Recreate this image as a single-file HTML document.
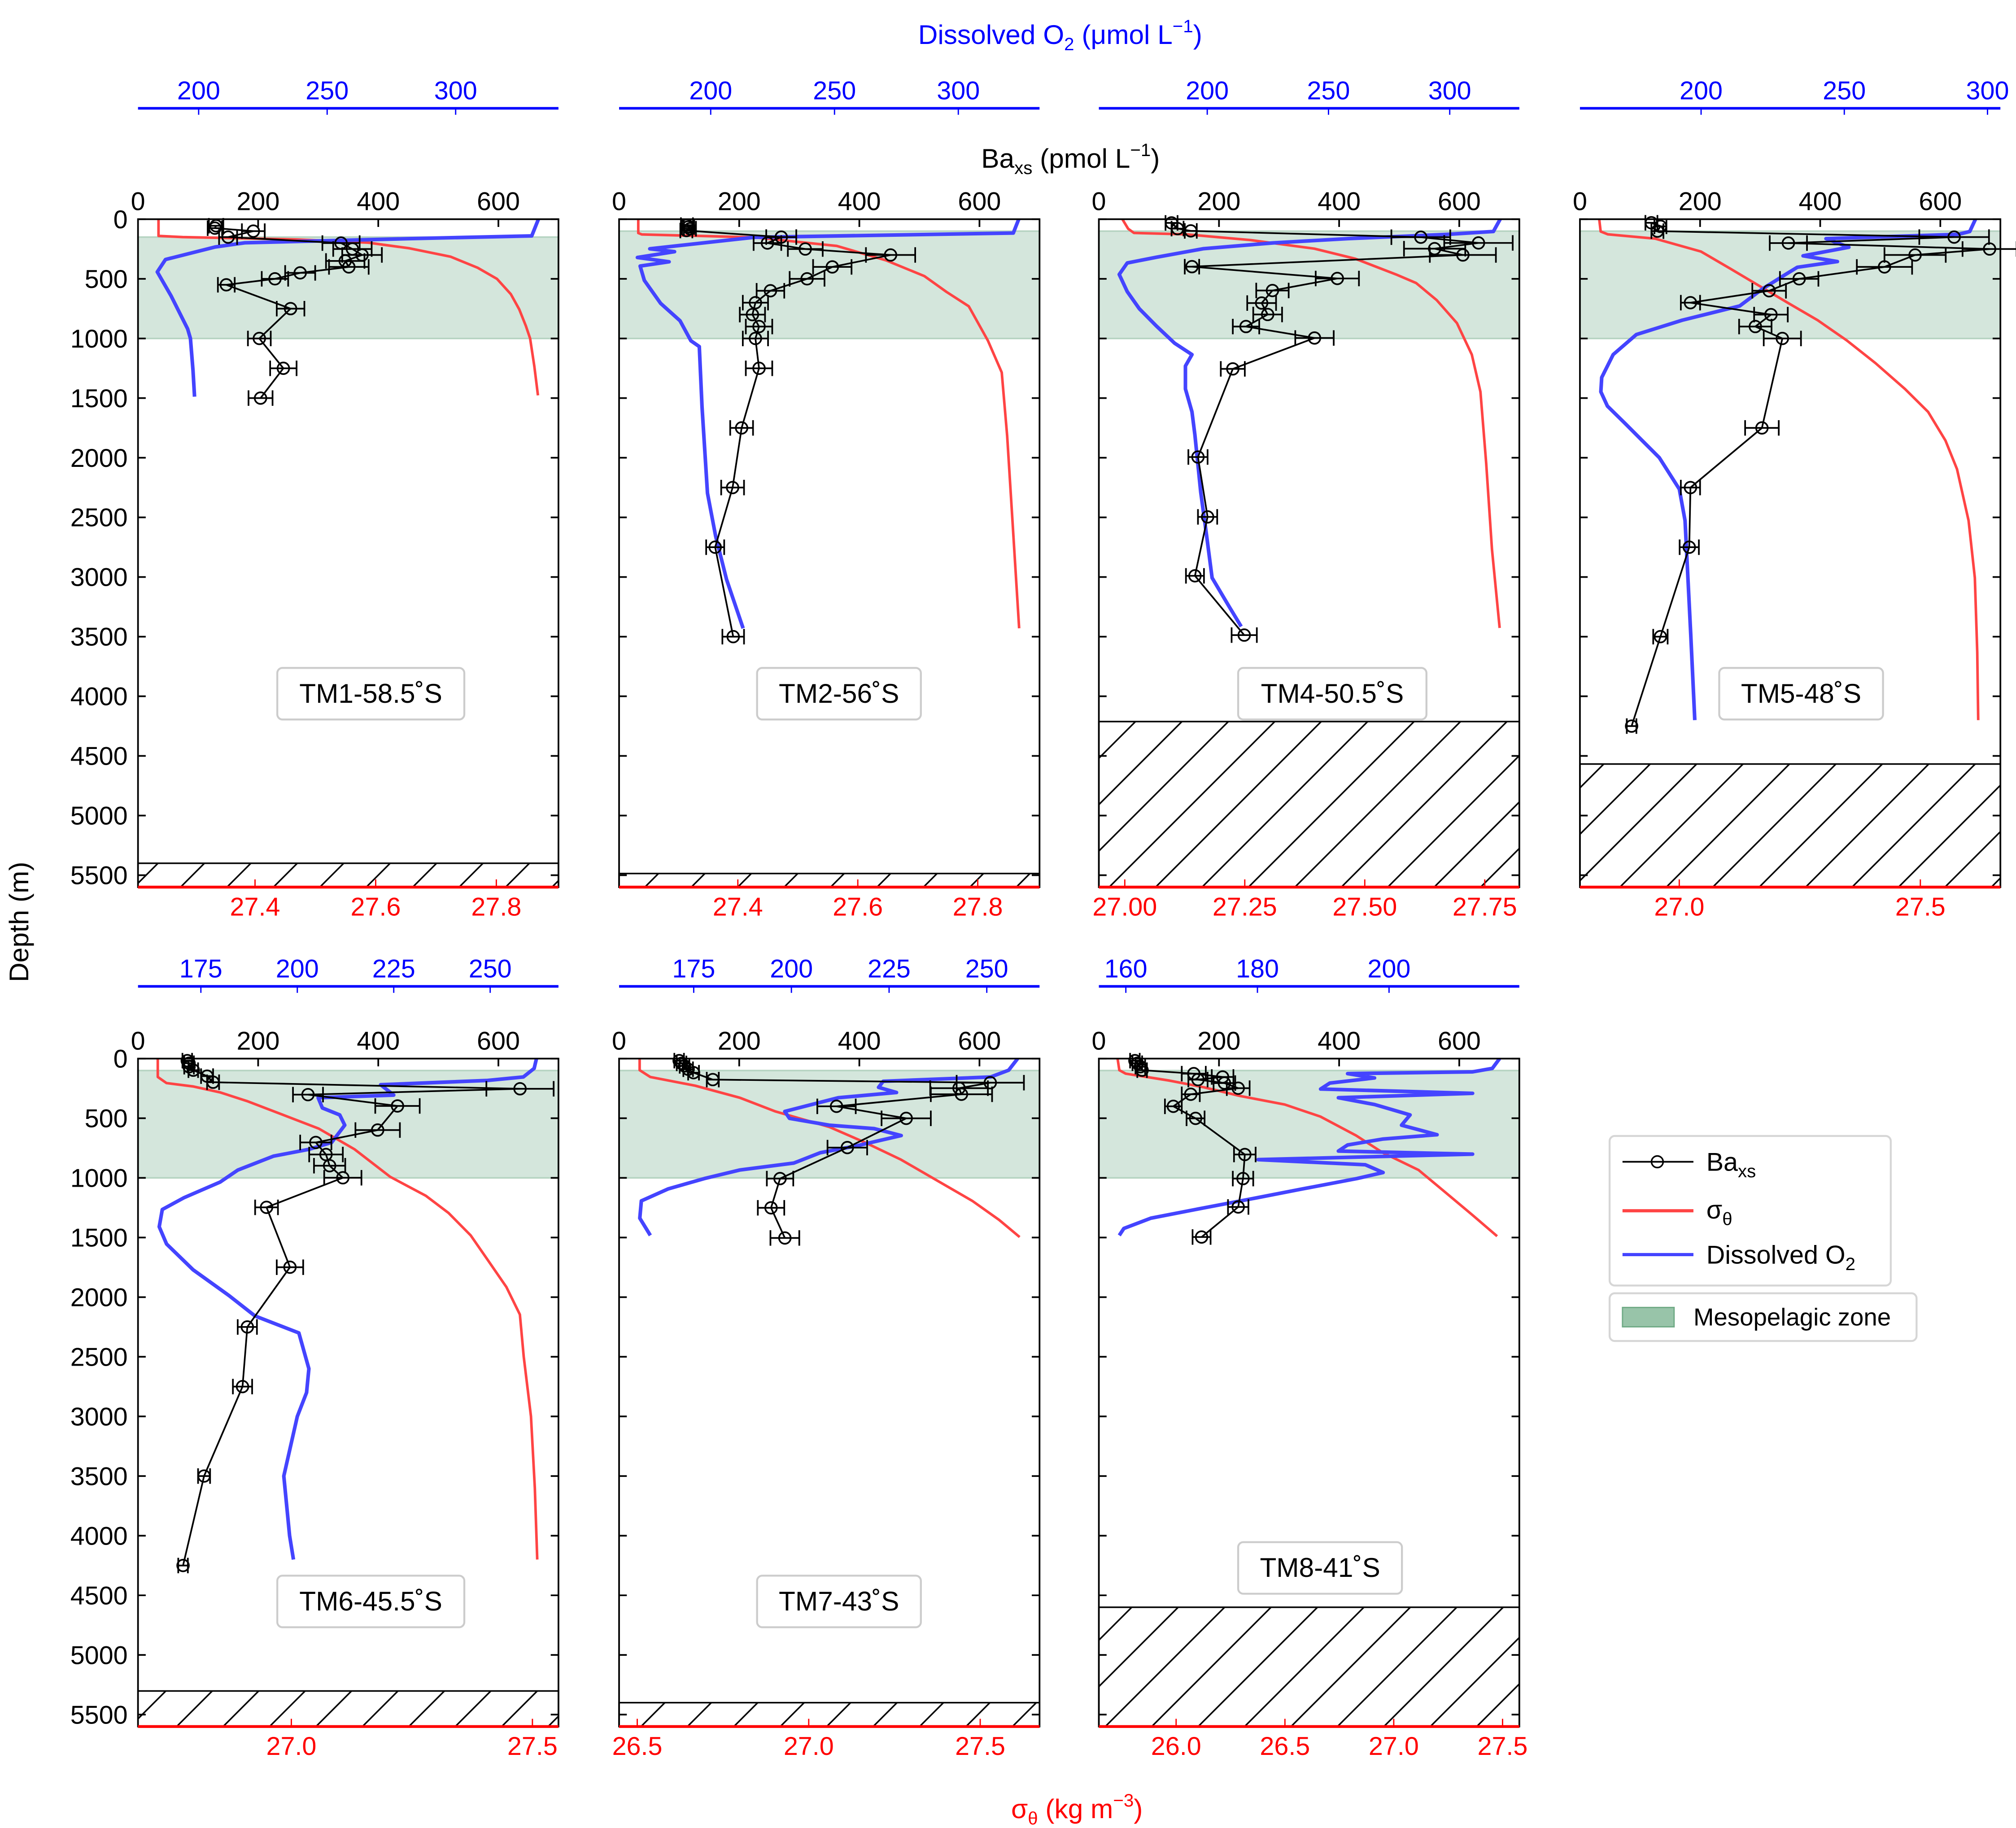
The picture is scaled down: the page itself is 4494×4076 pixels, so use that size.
<!DOCTYPE html>
<html><head><meta charset="utf-8"><title>Baxs, sigma-theta and O2 profiles</title>
<style>
html,body{margin:0;padding:0;background:#fff;}
svg{display:block;}
text{font-family:"Liberation Sans",Arial,sans-serif;}
</style></head>
<body>
<svg id="fig" xmlns="http://www.w3.org/2000/svg" width="4494" height="4076" viewBox="0 0 1563.1 1417.7" preserveAspectRatio="none">
<defs>
<pattern id="hatch" patternUnits="userSpaceOnUse" width="36" height="36">
<path d="M0,36 L36,0 M-9,9 L9,-9 M27,45 L45,27" stroke="#000" stroke-width="1.2"/>
</pattern>
</defs>
<rect x="0" y="0" width="1563.1" height="1417.7" fill="#fff"/>
<text x="822" y="34" font-size="21" fill="#0000ff" text-anchor="middle">Dissolved O<tspan font-size="14" dy="5">2</tspan><tspan dy="-5"> (μmol L</tspan><tspan font-size="14" dy="-9">−1</tspan><tspan dy="9">)</tspan></text>
<text x="830" y="130" font-size="21" fill="#000" text-anchor="middle">Ba<tspan font-size="14" dy="5">xs</tspan><tspan dy="-5"> (pmol L</tspan><tspan font-size="14" dy="-9">−1</tspan><tspan dy="9">)</tspan></text>
<text x="22" y="715" font-size="21" fill="#000" text-anchor="middle" transform="rotate(-90 22 715)">Depth (m)</text>
<text x="835" y="1410" font-size="21" fill="#ff0000" text-anchor="middle">σ<tspan font-size="14" dy="5">θ</tspan><tspan dy="-5"> (kg m</tspan><tspan font-size="14" dy="-9">−3</tspan><tspan dy="9">)</tspan></text>

<g>
<rect x="1248" y="881" width="218" height="116" rx="4" fill="#fff" stroke="#d6d6d6" stroke-width="1.5"/>
<g>
<line x1="1258" y1="901" x2="1313" y2="901" stroke="#000" stroke-width="1.3"/>
<circle cx="1285" cy="901" r="4.5" fill="none" stroke="#000" stroke-width="1.2"/>
<text x="1323" y="908" font-size="20">Ba<tspan font-size="14" dy="5">xs</tspan></text>
</g>
<g>
<line x1="1258" y1="939" x2="1313" y2="939" stroke="#ff4444" stroke-width="2.5"/>
<text x="1323" y="945" font-size="20">σ<tspan font-size="14" dy="5">θ</tspan></text>
</g>
<g>
<line x1="1258" y1="973" x2="1313" y2="973" stroke="#4444ff" stroke-width="2.5"/>
<text x="1323" y="980" font-size="20">Dissolved O<tspan font-size="14" dy="5">2</tspan></text>
</g>
<rect x="1248" y="1003" width="238" height="37" rx="4" fill="#fff" stroke="#d6d6d6" stroke-width="1.5"/>
<g>
<rect x="1258" y="1014" width="40" height="15" fill="#98c4a9" stroke="#6faa85" stroke-width="1"/>
<text x="1313" y="1028" font-size="19">Mesopelagic zone</text>
</g>
</g>
</svg>
<script>
// ===== DATA (depth in m, Ba in pmol/L, sigma in kg/m3, O2 in umol/L) =====
const tm1BaDepth = [55,75,100,150,200,250,300,350,400,450,500,550,750,1000,1250,1500];
const tm1Ba = [130,128,192,150,338,357,373,345,351,270,228,147,254,202,242,204];
const tm1BaErr = [12,12,19,15,31,32,33,32,33,25,22,14,23,19,22,20];
const tm1SigDepth = [0,140,150,170,197,244,314,407,500,628,756,895,1000,1233,1477];
const tm1Sig = [27.240,27.240,27.28,27.47,27.588,27.656,27.724,27.769,27.801,27.824,27.838,27.849,27.856,27.863,27.869];
const tm1O2Depth = [0,140,163,198,233,338,442,640,919,1000,1267,1488];
const tm1O2 = [332.2,329.6,282,218,206.4,187.1,183.9,189.2,195.7,196.8,197.8,198.4];

const tm2BaDepth = [50,65,80,95,150,200,250,300,400,500,600,700,800,900,1000,1250,1750,2250,2750,3500];
const tm2Ba = [113,115,118,112,270,247,310,452,355,313,252,227,222,233,227,233,204,189,160,190];
const tm2BaErr = [10,10,10,10,25,23,29,41,32,29,23,21,21,22,21,22,19,19,15,18];
const tm2SigDepth = [0,116,128,152,224,345,477,610,730,1019,1285,1815,2538,3430];
const tm2Sig = [27.234,27.234,27.24,27.427,27.565,27.647,27.711,27.748,27.785,27.817,27.84,27.849,27.858,27.869];
const tm2O2Depth = [0,116,152,248,272,321,357,393,513,706,851,1019,1068,1574,2297,2658,3020,3430];
const tm2O2 = [324.4,322.2,217.5,175.4,185.4,170.4,183.2,171.5,173.2,179.8,187.6,192,195.4,196.5,198.7,202,206.4,213.1];

const tm4BaDepth = [31,79,98,151,199,247,300,398,497,598,703,799,900,996,1255,1994,2496,2990,3487];
const tm4Ba = [121,131,153,536,632,559,606,155,397,289,271,281,245,359,223,165,181,160,242];
const tm4BaErr = [10,10,10,49,57,51,55,12,36,27,24,24,22,32,20,16,16,15,21];
const tm4SigDepth = [0,80,115,127,175,247,331,463,535,679,871,1135,1447,2047,2767,3427];
const tm4Sig = [26.995,27.007,27.019,27.128,27.262,27.395,27.48,27.565,27.607,27.65,27.692,27.723,27.741,27.753,27.765,27.781];
const tm4O2Depth = [0,103,127,163,199,247,319,367,463,607,751,895,1039,1135,1231,1423,1615,1807,2287,2647,3007,3247,3415];
const tm4O2 = [320.8,318,299,258,227,198.5,179,167,163.7,167,172,179,186.5,193.7,191,191,193.7,194.9,197.3,199.7,202,209,214];

const tm5BaDepth = [30,60,100,150,200,250,300,400,500,600,700,800,900,1000,1750,2250,2750,3500,4250];
const tm5Ba = [119,134,129,623,347,682,558,507,365,315,184,318,292,337,303,184,182,134,86];
const tm5BaErr = [10,10,10,58,31,45,51,46,32,28,16,28,27,31,28,16,16,12,8];
const tm5SigDepth = [0,103,127,163,271,415,559,703,847,1015,1207,1423,1615,1855,2095,2527,3007,3631,4200];
const tm5Sig = [26.834,26.837,26.852,26.95,27.045,27.106,27.166,27.226,27.287,27.347,27.407,27.468,27.516,27.552,27.576,27.6,27.613,27.618,27.62];
const tm5O2Depth = [0,103,127,163,235,307,355,403,463,583,727,847,967,1135,1327,1447,1567,1711,1855,1999,2263,2527,3007,3487,4200];
const tm5O2 = [295.8,293.8,289.8,243.6,251.6,235.6,247.6,233.6,229.5,221.5,213.5,193.4,177.4,169.3,165.3,165,167.3,173.4,179.4,185.4,192.4,194.4,195.4,196.4,197.8];

const tm6BaDepth = [17,39,68,97,147,198,253,302,397,599,703,804,898,999,1247,1749,2250,2750,3500,4250];
const tm6Ba = [82,85,85,92,115,125,636,283,432,399,296,313,319,341,214,253,182,174,110,75];
const tm6BaErr = [8,8,8,8,10,10,56,25,37,37,26,28,26,31,19,22,16,16,10,8];
const tm6SigDepth = [0,154,205,234,284,356,472,587,760,991,1150,1294,1482,1698,1915,2146,2500,3000,3600,4200];
const tm6Sig = [26.723,26.723,26.741,26.797,26.853,26.908,26.983,27.057,27.131,27.205,27.279,27.326,27.372,27.409,27.446,27.474,27.482,27.497,27.505,27.51];
const tm6O2Depth = [0,82,154,183,219,306,328,414,472,558,703,760,818,934,1035,1165,1265,1410,1554,1771,1987,2157,2300,2600,2800,3000,3500,4000,4200];
const tm6O2 = [262,261.4,258.6,249.3,221.6,225,205.4,206.5,211,212.3,208.9,203.1,193.8,184.6,180,170.7,165,164.2,166.1,173,182.3,189,200.4,203,202.4,200,196.5,198,199];

const tm7BaDepth = [17,40,61,89,118,176,202,248,299,400,501,746,1006,1251,1504];
const tm7Ba = [100,104,109,115,124,156,618,566,570,362,478,380,268,253,276];
const tm7BaErr = [8,8,8,8,9,10,56,48,51,32,41,33,22,22,24];
const tm7SigDepth = [0,97,154,227,328,443,573,703,847,1020,1193,1352,1496];
const tm7Sig = [26.507,26.507,26.538,26.669,26.799,26.903,27.06,27.164,27.269,27.373,27.477,27.555,27.615];
const tm7O2Depth = [0,97,154,190,241,284,328,385,443,501,558,587,645,732,789,876,934,1006,1092,1193,1338,1482];
const tm7O2 = [257.9,255.6,251,223.5,222.3,226.9,212,205.2,198.3,199.5,209.7,221.2,228.1,216.6,207.4,200.6,186.8,177.7,168.5,161.6,161.2,163.9];

const tm8BaDepth = [17,39,68,97,126,154,176,205,248,299,400,501,804,1006,1244,1496];
const tm8Ba = [60,64,69,72,158,206,165,209,232,153,124,161,243,240,232,171];
const tm8BaErr = [8,8,8,8,20,18,16,18,19,15,14,15,18,17,17,15];
const tm8SigDepth = [0,97,126,183,241,313,385,486,645,789,934,1121,1309,1489];
const tm8Sig = [25.731,25.739,25.768,25.965,26.129,26.293,26.499,26.663,26.827,26.95,27.114,27.237,27.36,27.475];
const tm8O2Depth = [0,82,111,126,162,205,255,291,328,385,472,558,638,674,724,775,801,847,890,955,1006,1092,1165,1251,1338,1424,1482];
const tm8O2 = [216.8,215.7,212.7,193.7,197.8,191,189.6,212.7,192.3,197.8,203.2,201.9,207.3,199.1,193.7,192.3,212.7,180.1,196.4,199.1,195.1,186.9,180.1,171.9,163.8,159.7,159];

const stationNames = ["TM1-58.5˚S","TM2-56˚S","TM4-50.5˚S","TM5-48˚S","TM6-45.5˚S","TM7-43˚S","TM8-41˚S"];
const seafloorDepths = [5400,5486,4212,4568,5302,5400,4600];
const mesoTopDepths = [150,100,100,100,100,100,100];
const mesoBottomDepth = 1000;
const depthTicks = [0,500,1000,1500,2000,2500,3000,3500,4000,4500,5000,5500];
const baTicks = [0,200,400,600];
const sigTicks1 = [27.4,27.6,27.8];
const sigTicks2 = [27.4,27.6,27.8];
const sigTicks3 = [27.00,27.25,27.50,27.75];
const sigTicks4 = [27.0,27.5];
const sigTicks5 = [27.0,27.5];
const sigTicks6 = [26.5,27.0,27.5];
const sigTicks7 = [26.0,26.5,27.0,27.5];
const o2Ticks1 = [200,250,300];
const o2Ticks2 = [200,250,300];
const o2Ticks3 = [200,250,300];
const o2Ticks4 = [200,250,300];
const o2Ticks5 = [175,200,225,250];
const o2Ticks6 = [175,200,225,250];
const o2Ticks7 = [160,180,200];

// ===== LAYOUT (not data) =====
const NS = "http://www.w3.org/2000/svg";
const svg = document.getElementById("fig");
const W = 326, H = 518, DEPTH_MAX = 5600, BA_MAX = 700;
const panels = [
 {left:107, top:170, oOff:86, bd:tm1BaDepth, ba:tm1Ba, be:tm1BaErr, sd:tm1SigDepth, s:tm1Sig, od:tm1O2Depth, o:tm1O2, sDom:[27.206,27.903], oDom:[176.4,340], sT:sigTicks1, oT:o2Ticks1, dec:1, labels:true, box:[215,518,145]},
 {left:480, top:170, oOff:86, bd:tm2BaDepth, ba:tm2Ba, be:tm2BaErr, sd:tm2SigDepth, s:tm2Sig, od:tm2O2Depth, o:tm2O2, sDom:[27.202,27.903], oDom:[163,332.8], sT:sigTicks2, oT:o2Ticks2, dec:1, labels:false, box:[587,518,127]},
 {left:852, top:170, oOff:86, bd:tm4BaDepth, ba:tm4Ba, be:tm4BaErr, sd:tm4SigDepth, s:tm4Sig, od:tm4O2Depth, o:tm4O2, sDom:[26.946,27.822], oDom:[155.3,328.7], sT:sigTicks3, oT:o2Ticks3, dec:2, labels:false, box:[960,518,146]},
 {left:1225, top:170, oOff:86, bd:tm5BaDepth, ba:tm5Ba, be:tm5BaErr, sd:tm5SigDepth, s:tm5Sig, od:tm5O2Depth, o:tm5O2, sDom:[26.794,27.666], oDom:[157.7,304.5], sT:sigTicks4, oT:o2Ticks4, dec:1, labels:false, box:[1333,518,127]},
 {left:107, top:821, oOff:56, bd:tm6BaDepth, ba:tm6Ba, be:tm6BaErr, sd:tm6SigDepth, s:tm6Sig, od:tm6O2Depth, o:tm6O2, sDom:[26.682,27.554], oDom:[158.7,267.7], sT:sigTicks5, oT:o2Ticks5, dec:1, labels:true, box:[215,1222,145]},
 {left:480, top:821, oOff:56, bd:tm7BaDepth, ba:tm7Ba, be:tm7BaErr, sd:tm7SigDepth, s:tm7Sig, od:tm7O2Depth, o:tm7O2, sDom:[26.447,27.673], oDom:[155.9,263.5], sT:sigTicks6, oT:o2Ticks6, dec:1, labels:false, box:[587,1222,127]},
 {left:852, top:821, oOff:56, bd:tm8BaDepth, ba:tm8Ba, be:tm8BaErr, sd:tm8SigDepth, s:tm8Sig, od:tm8O2Depth, o:tm8O2, sDom:[25.645,27.577], oDom:[155.9,219.8], sT:sigTicks7, oT:o2Ticks7, dec:1, labels:false, box:[960,1196,127]}
];

function mk(tag, attrs, parent){
  const el = document.createElementNS(NS, tag);
  for (const k in attrs) el.setAttribute(k, attrs[k]);
  (parent || svg).appendChild(el);
  return el;
}

panels.forEach((p, i) => {
  const L = p.left, T = p.top, B = T + H, R = L + W;
  const yD = d => T + d / DEPTH_MAX * H;
  const xBa = v => L + v / BA_MAX * W;
  const xS = v => L + (v - p.sDom[0]) / (p.sDom[1] - p.sDom[0]) * W;
  const xO = v => L + (v - p.oDom[0]) / (p.oDom[1] - p.oDom[0]) * W;

  const g = mk("g", {});
  
  

  const clipId = "clip" + i;
  const cp = mk("clipPath", {id: clipId}, g);
  mk("rect", {x: L, y: T, width: W, height: H}, cp);

  const meso = mk("rect", {x: L, y: yD(mesoTopDepths[i]), width: W, height: yD(mesoBottomDepth) - yD(mesoTopDepths[i]), fill: "#d4e6dc", stroke: "#b5d3c1", "stroke-width": 1.2}, g);
  
  

  const sf = mk("rect", {x: L, y: yD(seafloorDepths[i]), width: W, height: B - yD(seafloorDepths[i]), fill: "url(#hatch)", stroke: "#000", "stroke-width": 1.2}, g);
  
  

  const sPts = p.s.map((v, k) => xS(v).toFixed(2) + "," + yD(p.sd[k]).toFixed(2)).join(" ");
  const sl = mk("polyline", {points: sPts, fill: "none", stroke: "#ff4444", "stroke-width": 2, "stroke-linejoin": "round", "clip-path": "url(#" + clipId + ")"}, g);
  
  

  const oPts = p.o.map((v, k) => xO(v).toFixed(2) + "," + yD(p.od[k]).toFixed(2)).join(" ");
  const ol = mk("polyline", {points: oPts, fill: "none", stroke: "#4444ff", "stroke-width": 2.8, "stroke-linejoin": "round", "clip-path": "url(#" + clipId + ")"}, g);
  
  

  const bPts = p.ba.map((v, k) => xBa(v).toFixed(2) + "," + yD(p.bd[k]).toFixed(2)).join(" ");
  const bl = mk("polyline", {points: bPts, fill: "none", stroke: "#000", "stroke-width": 1.3}, g);
  
  
  p.ba.forEach((v, k) => {
    const y = yD(p.bd[k]), x0 = xBa(v - p.be[k]), x1 = xBa(v + p.be[k]);
    const eb = mk("path", {d: `M${x0},${y}H${x1}M${x0},${y-6}V${y+6}M${x1},${y-6}V${y+6}`, stroke: "#000", "stroke-width": 1.3, fill: "none"}, g);
    
    
    const c = mk("circle", {cx: xBa(v), cy: y, r: 4.5, fill: "none", stroke: "#000", "stroke-width": 1.3}, g);
    
    
  });

  const fr = mk("rect", {x: L, y: T, width: W, height: H, fill: "none", stroke: "#000", "stroke-width": 1.3}, g);
  
  

  depthTicks.forEach(d => {
    const y = yD(d);
    const tk = mk("path", {d: `M${L},${y}h6M${R},${y}h-6`, stroke: "#000", "stroke-width": 1.3}, g);
    
    
    if (p.labels) {
      const t = mk("text", {x: L - 8, y: y + 7, "font-size": 20, "text-anchor": "end"}, g);
      t.textContent = String(d);
      
      
    }
  });

  baTicks.forEach(v => {
    const x = xBa(v);
    if (v > 0) {
      const tk = mk("line", {x1: x, y1: T, x2: x, y2: T + 6, stroke: "#000", "stroke-width": 1.3}, g);
      
      
    }
    const t = mk("text", {x: x, y: T - 7, "font-size": 20, "text-anchor": "middle"}, g);
    t.textContent = String(v);
    
    
  });

  const sa = mk("line", {x1: L, y1: B, x2: R, y2: B, stroke: "#ff0000", "stroke-width": 2.2}, g);
  
  
  p.sT.forEach(v => {
    const x = xS(v);
    const tk = mk("line", {x1: x, y1: B, x2: x, y2: B - 6, stroke: "#ff0000", "stroke-width": 1}, g);
    
    
    const t = mk("text", {x: x, y: B + 22, "font-size": 20, fill: "#ff0000", "text-anchor": "middle"}, g);
    t.textContent = v.toFixed(p.dec);
    
    
  });

  const oy = T - p.oOff;
  const oa = mk("line", {x1: L, y1: oy, x2: R, y2: oy, stroke: "#0000ff", "stroke-width": 2}, g);
  
  
  p.oT.forEach(v => {
    const x = xO(v);
    const tk = mk("line", {x1: x, y1: oy, x2: x, y2: oy + 5, stroke: "#0000ff", "stroke-width": 1}, g);
    
    
    const t = mk("text", {x: x, y: oy - 7, "font-size": 20, fill: "#0000ff", "text-anchor": "middle"}, g);
    t.textContent = String(v);
    
    
  });

  const bx = mk("rect", {x: p.box[0], y: p.box[1], width: p.box[2], height: 40, rx: 4, fill: "#fff", stroke: "#cccccc", "stroke-width": 1.5}, g);
  
  
  const st = mk("text", {x: p.box[0] + p.box[2] / 2, y: p.box[1] + 27, "font-size": 21, "text-anchor": "middle"}, g);
  st.textContent = stationNames[i];
  
  
});
</script>
</body></html>
